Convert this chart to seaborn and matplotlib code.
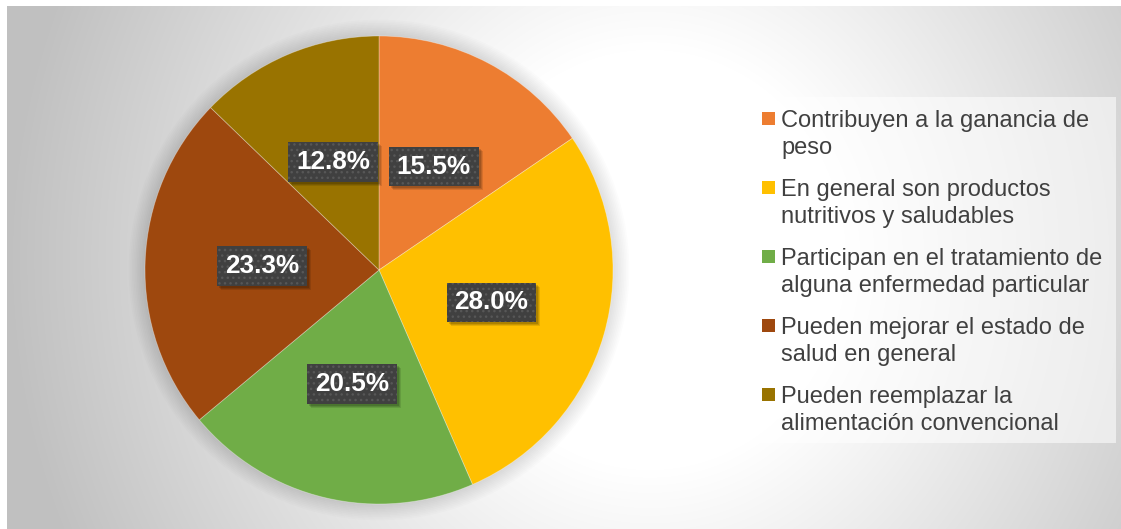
import numpy as np
import matplotlib
matplotlib.use("Agg")
import matplotlib.pyplot as plt
from matplotlib.patches import Rectangle, Circle
import seaborn as sns

# ---------------- data ----------------
categories = [
    "Contribuyen a la ganancia de peso",
    "En general son productos nutritivos y saludables",
    "Participan en el tratamiento de alguna enfermedad particular",
    "Pueden mejorar el estado de salud en general",
    "Pueden reemplazar la alimentación convencional",
]
legend_lines = [
    ["Contribuyen a la ganancia de", "peso"],
    ["En general son productos", "nutritivos y saludables"],
    ["Participan en el tratamiento de", "alguna enfermedad particular"],
    ["Pueden mejorar el estado de", "salud en general"],
    ["Pueden reemplazar la", "alimentación convencional"],
]
values = [15.5, 28.0, 20.5, 23.3, 12.8]
hex_colors = ["#ED7D31", "#FFC000", "#70AD47", "#9E480E", "#997300"]

# ---------------- style ----------------
sns.set_theme(style="white")
plt.rcParams["font.family"] = ["Liberation Sans", "DejaVu Sans"]
palette = sns.color_palette(hex_colors)

W, H = 1121, 529
fig = plt.figure(figsize=(W / 100, H / 100), dpi=100, facecolor="white")

# background gradient panel
bg = fig.add_axes([7 / W, 0, (W - 7) / W, (H - 6) / H])
bg.axis("off")
xs = np.arange(7, W) + 0.5
ys = np.arange(6, H) + 0.5
X, Y = np.meshgrid(xs, ys)
d = np.sqrt(((X - 650) / 560) ** 2 + ((Y - 260) / 600) ** 2)
t = np.clip((d - 0.35) / 0.8, 0, 1)
g = 1 - (63 / 255) * t
bg.imshow(np.dstack([g, g, g]), extent=[0, 1, 0, 1], aspect="auto",
          origin="upper", interpolation="bilinear")
bg.set_xlim(0, 1)
bg.set_ylim(0, 1)

# pie axes
cx, cy, R = 379, 270, 234
ax = fig.add_axes([(cx - R) / W, (H - cy - R) / H, 2 * R / W, 2 * R / H])
ax.patch.set_alpha(0)

for i in range(10):
    ax.add_patch(Circle((0, 0), 1 + 0.007 * (i + 1), facecolor="black",
                        alpha=0.012, edgecolor="none", zorder=0, clip_on=False))

wedges, texts, autotexts = ax.pie(
    values, colors=palette, startangle=90, counterclock=False,
    autopct="%1.1f%%", pctdistance=0.5,
    wedgeprops=dict(linewidth=0.6, edgecolor=(1, 1, 1, 0.35)),
    textprops=dict(color="white", fontsize=18.8, fontweight="bold"),
)
ax.set_xlim(-1, 1)
ax.set_ylim(-1, 1)

for at, v in zip(autotexts, values):
    at.set_text(f"{v:.1f}%")
    at.set_zorder(5)
    at.set_bbox(dict(boxstyle="square,pad=0.3", facecolor="#404040",
                     edgecolor="#575757", linewidth=0, hatch="..."))

# soft drop shadows behind the label boxes
fig.canvas.draw()
for at in autotexts:
    bb = at.get_bbox_patch().get_window_extent()
    for k, a in ((4, 0.10), (3, 0.12), (2, 0.14)):
        fig.add_artist(Rectangle(((bb.x0 + k) / W, (bb.y0 - k) / H),
                                 bb.width / W, bb.height / H,
                                 transform=fig.transFigure,
                                 facecolor="black", alpha=a, edgecolor="none",
                                 zorder=1))
    at.set_zorder(6)
    at.remove()
    fig.add_artist(at)
    at.set_transform(ax.transData)

# legend (drawn to match Excel layout)
fig.add_artist(Rectangle((750 / W, 1 - 443 / H), (1116 - 750) / W, (443 - 97) / H,
                         transform=fig.transFigure, facecolor="white", alpha=0.55,
                         edgecolor="none"))
for i, (lines, col) in enumerate(zip(legend_lines, palette)):
    mc = 118.5 + 69 * i
    fig.add_artist(Rectangle((762 / W, 1 - (mc + 6.5) / H), 13 / W, 13 / H,
                             transform=fig.transFigure, facecolor=col,
                             edgecolor="none"))
    base = 126.7 + 69 * i
    for j, ln in enumerate(lines):
        fig.text(781 / W, 1 - (base + 27 * j) / H, ln, fontsize=17,
                 color="#404040", ha="left", va="baseline")

fig.savefig("out.png", dpi=100, facecolor="white")
